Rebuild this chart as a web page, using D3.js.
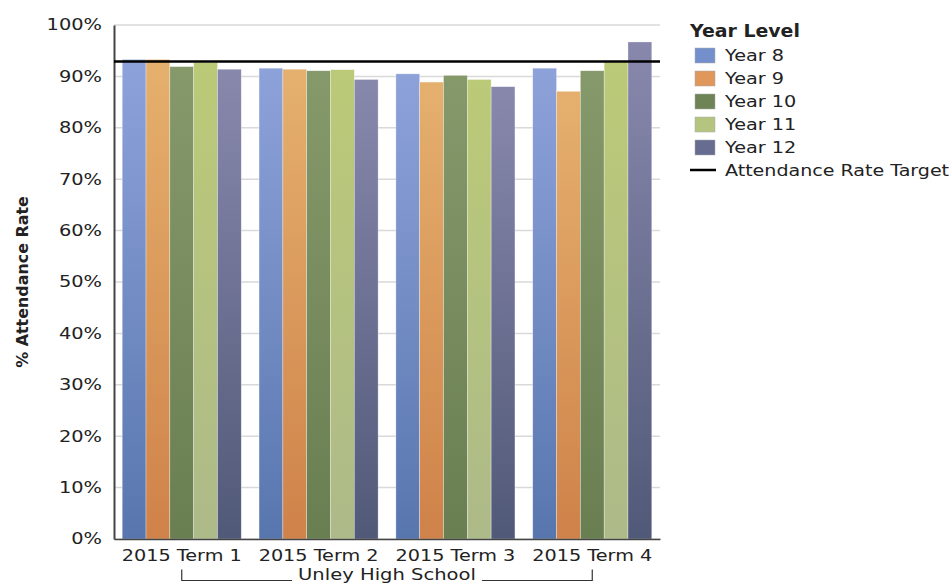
<!DOCTYPE html>
<html>
<head>
<meta charset="utf-8">
<script src="https://cdn.jsdelivr.net/npm/d3@7"></script>
<style>
  body { margin: 0; background: #fff; }
  text { font-family: "DejaVu Sans", Verdana, sans-serif; fill: #222; }
</style>
</head>
<body>
<div id="chart"></div>
<script>
const terms = ["2015 Term 1", "2015 Term 2", "2015 Term 3", "2015 Term 4"];
const years = ["Year 8", "Year 9", "Year 10", "Year 11", "Year 12"];
const year8 = [93.3, 91.6, 90.5, 91.6];
const year9 = [93.3, 91.4, 88.9, 87.1];
const year10 = [91.9, 91.1, 90.2, 91.1];
const year11 = [92.7, 91.3, 89.4, 92.8];
const year12 = [91.4, 89.4, 88.0, 96.7];
const target = 92.9;
const yTicks = [0, 10, 20, 30, 40, 50, 60, 70, 80, 90, 100];

const series = [year8, year9, year10, year11, year12];
const colors = [
    { top: "#8ea2da", bottom: "#5876ae", key: "#7390cc" },
    { top: "#e5b06e", bottom: "#cf8249", key: "#e0975c" },
    { top: "#86996b", bottom: "#697e51", key: "#6e8456" },
    { top: "#bbca77", bottom: "#adba89", key: "#b5c47f" },
    { top: "#8888ad", bottom: "#515978", key: "#666d91" }
];

const width = 952, height = 585;
const margin = { left: 114, right: 292, top: 25, bottom: 46 };

// the reference text is a bit wider than DejaVu, so stretch it
function stretch(sel, k) {
    sel.each(function () {
        const w = this.getComputedTextLength();
        d3.select(this)
            .attr("textLength", w * k)
            .attr("lengthAdjust", "spacingAndGlyphs");
    });
}

const svg = d3.select("#chart").append("svg")
    .attr("width", width)
    .attr("height", height);

const defs = svg.append("defs");
colors.forEach((c, i) => {
    const g = defs.append("linearGradient")
        .attr("id", "grad" + i)
        .attr("x1", 0).attr("y1", 0).attr("x2", 0).attr("y2", 1);
    g.append("stop").attr("offset", "0%").attr("stop-color", c.top);
    g.append("stop").attr("offset", "100%").attr("stop-color", c.bottom);
});

const x0 = d3.scaleBand()
    .domain(terms)
    .range([margin.left, width - margin.right])
    .paddingInner(0.13)
    .paddingOuter(0.06);

const x1 = d3.scaleBand()
    .domain(years)
    .range([0, x0.bandwidth()]);

const y = d3.scaleLinear()
    .domain([0, 100])
    .range([height - margin.bottom, margin.top]);

// gridlines
svg.append("g")
    .selectAll("line")
    .data(yTicks)
    .enter().append("line")
    .attr("x1", margin.left)
    .attr("x2", width - margin.right)
    .attr("y1", d => y(d))
    .attr("y2", d => y(d))
    .style("stroke", "#d9d9d9")
    .style("stroke-width", "1.5px");

// bars
terms.forEach((t, ti) => {
    const g = svg.append("g")
        .attr("transform", `translate(${x0(t)},0)`);
    g.selectAll("rect")
        .data(years.map((yr, yi) => ({ yr: yr, yi: yi, v: series[yi][ti] })))
        .enter().append("rect")
        .attr("x", d => x1(d.yr))
        .attr("width", x1.bandwidth())
        .attr("y", d => y(d.v))
        .attr("height", d => y(0) - y(d.v))
        .style("fill", d => `url(#grad${d.yi})`)
        .style("stroke", "rgba(255,255,255,0.5)")
        .style("stroke-width", "0.6px");
});

// y axis
const yAxis = d3.axisLeft(y)
    .tickValues(yTicks)
    .tickSize(0)
    .tickPadding(12)
    .tickFormat(d => d + "%");
const ya = svg.append("g")
    .attr("transform", `translate(${margin.left},0)`)
    .call(yAxis);
ya.select(".domain").style("stroke", "#444").style("stroke-width", "2px");
ya.selectAll("text")
    .style("font-size", "15.5px")
    .style("fill", "#222")
    .call(stretch, 1.25);

// x axis
const xAxis = d3.axisBottom(x0).tickSize(0).tickPadding(11);
const xa = svg.append("g")
    .attr("transform", `translate(0,${y(0)})`)
    .call(xAxis);
xa.select(".domain").style("stroke", "#444").style("stroke-width", "1.5px");
xa.selectAll("text")
    .style("font-size", "16px")
    .style("fill", "#222")
    .call(stretch, 1.2);

// target line
svg.append("line")
    .attr("x1", margin.left)
    .attr("x2", width - margin.right)
    .attr("y1", y(target))
    .attr("y2", y(target))
    .style("stroke", "#000")
    .style("stroke-width", "2.5px");

// group label with bracket
const bx1 = x0(terms[0]) + x0.bandwidth() / 2;
const bx2 = x0(terms[terms.length - 1]) + x0.bandwidth() / 2;
const by = 580.5;
const groupLabel = svg.append("text")
    .attr("x", (bx1 + bx2) / 2)
    .attr("y", 580)
    .attr("text-anchor", "middle")
    .style("font-size", "15.5px")
    .text("Unley High School")
    .call(stretch, 1.26);
const lw = +groupLabel.attr("textLength");
svg.append("path")
    .attr("d", `M${bx1},${by - 11}V${by}H${(bx1 + bx2) / 2 - lw / 2 - 6}` +
        `M${(bx1 + bx2) / 2 + lw / 2 + 6},${by}H${bx2}V${by - 11}`)
    .style("fill", "none")
    .style("stroke", "#333")
    .style("stroke-width", "1.2px");

// y axis title
svg.append("text")
    .attr("transform", `translate(28,${(y(0) + y(100)) / 2}) rotate(-90)`)
    .attr("text-anchor", "middle")
    .style("font-size", "15px")
    .style("font-weight", "bold")
    .text("% Attendance Rate")
    .call(stretch, 1.06);

// legend
const legend = svg.append("g").attr("transform", "translate(690,0)");
legend.append("text")
    .attr("x", 0)
    .attr("y", 36.5)
    .style("font-size", "18px")
    .style("font-weight", "bold")
    .text("Year Level")
    .call(stretch, 1.05);
years.forEach((yr, i) => {
    const ly = 55 + i * 23;
    legend.append("rect")
        .attr("x", 5)
        .attr("y", ly - 7)
        .attr("width", 20)
        .attr("height", 15)
        .style("fill", colors[i].key)
        .style("stroke", "#aaa")
        .style("stroke-width", "0.5px");
    legend.append("text")
        .attr("x", 35)
        .attr("y", ly + 6)
        .style("font-size", "16px")
        .text(yr)
        .call(stretch, 1.2);
});
const tly = 55 + 5 * 23;
legend.append("line")
    .attr("x1", 0).attr("x2", 26)
    .attr("y1", tly).attr("y2", tly)
    .style("stroke", "#000")
    .style("stroke-width", "2.5px");
legend.append("text")
    .attr("x", 35)
    .attr("y", tly + 6)
    .style("font-size", "16px")
    .text("Attendance Rate Target")
    .call(stretch, 1.19);
</script>
</body>
</html>
